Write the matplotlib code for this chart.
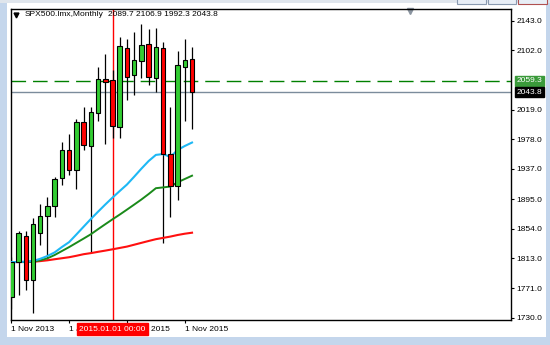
import numpy as np
import matplotlib.pyplot as plt
import matplotlib.transforms as mtransforms
from matplotlib.patches import Rectangle

plt.rcParams['font.family'] = ['Liberation Sans', 'DejaVu Sans']

# monthly bars, Nov 2013 .. Dec 2015
months = ['2013-11', '2013-12', '2014-01', '2014-02', '2014-03', '2014-04', '2014-05',
          '2014-06', '2014-07', '2014-08', '2014-09', '2014-10', '2014-11', '2014-12',
          '2015-01', '2015-02', '2015-03', '2015-04', '2015-05', '2015-06', '2015-07',
          '2015-08', '2015-09', '2015-10', '2015-11', '2015-12']
opens = [1759, 1807, 1843, 1783, 1848, 1872, 1886, 1924, 1963, 1935, 2002, 1969, 2015,
         2061.5, 2060.5, 1995, 2104.6, 2067.5, 2087.4, 2110.6, 2062.9, 2104.6, 1957.2,
         1913, 2079, 2089.7]
highs = [1814, 1851, 1850, 1868, 1888, 1898, 1926, 1974, 1985, 2007, 2023, 2023, 2079,
         2097, 2075, 2120, 2117, 2127, 2138, 2132, 2133, 2114, 2023, 2101, 2118, 2106.9]
lows = [1742, 1762, 1768, 1737, 1831, 1812, 1870, 1915, 1929, 1909, 1963, 1820, 2003,
        1972, 1980, 1980, 2033, 2040, 2063, 2054, 2044, 1834, 1870, 1893, 2003, 1992.3]
closes = [1807, 1848, 1782, 1860, 1871, 1885, 1923, 1963, 1935, 2002, 1970, 2016, 2062,
          2058, 1996, 2108, 2065, 2088, 2109, 2065, 2106, 1957, 1913, 2081, 2089, 2043.8]

# moving averages
ma_fast = [1807.4, 1807.4, 1808.1, 1808.8, 1811.9, 1815.8, 1820.8, 1828.3, 1835.1, 1845.7,
           1856.5, 1867.2, 1877.4, 1887.4, 1897.0, 1906.2, 1915.2, 1926.1, 1937.3, 1947.9,
           1956.4, 1957.6, 1953.5, 1963.2, 1968.8, 1973.6]
ma_mid = [1807.4, 1807.4, 1807.4, 1807.9, 1809.8, 1812.6, 1817.2, 1822.7, 1828.2, 1834.1,
          1840.0, 1846.0, 1853.1, 1860.0, 1866.8, 1873.4, 1880.3, 1887.3, 1894.4, 1902.0,
          1910.1, 1911.2, 1912.4, 1918.3, 1922.9, 1927.5]
ma_slow = [1807.4, 1807.4, 1807.4, 1807.7, 1808.7, 1809.8, 1811.3, 1812.7, 1814.1, 1816.1,
           1818.3, 1819.8, 1821.6, 1823.3, 1825.1, 1827.0, 1828.9, 1831.5, 1834.1, 1836.7,
           1839.2, 1841.0, 1842.8, 1845.0, 1846.8, 1848.2]

yticks = [1730, 1771, 1813, 1854, 1895, 1937, 1978, 2019, 2102, 2143]
xtick_pos = [0, 8, 16, 24]
xtick_labels = ['1 Nov 2013', '1 Jul 2014', '1 Mar 2015', '1 Nov 2015']
ask_line = 2059.3
bid_line = 2043.8
vline_bar = 14
vline_label = '2015.01.01 00:00'

W, H = 550, 345
fig = plt.figure(figsize=(5.5, 3.45), dpi=100, facecolor='#c4d6ec')
# window frame
fig.add_artist(Rectangle((7 / W, 8 / H), 539 / W, 334 / H, transform=fig.transFigure,
                         facecolor='white', edgecolor='none', zorder=-5))
fig.add_artist(Rectangle((0, 342 / H), 1, 3 / H, transform=fig.transFigure,
                         facecolor='#dfe5ec', edgecolor='none', zorder=-5))
for bx, bw, ec in [(457, 29, '#8a9ab0'), (488, 28, '#8a9ab0'), (518, 29, '#b05050')]:
    fig.add_artist(Rectangle((bx / W, 341 / H), bw / W, 6 / H, transform=fig.transFigure,
                             facecolor='#e8eef6', edgecolor=ec, lw=0.8, zorder=-4))

ax = fig.add_axes([11 / W, 25 / H, 500 / W, 311 / H])
ax.set_zorder(5)
ax.set_facecolor('white')

x = np.arange(len(months))
o = np.array(opens)
c = np.array(closes)
up = c >= o

ax.vlines(x, lows, highs, color='black', lw=0.9, zorder=2)
ax.plot(x, ma_slow, color='#ff1010', lw=1.5, zorder=3)
ax.plot(x, ma_mid, color='#1a8a1a', lw=1.4, zorder=3)
ax.plot(x, ma_fast, color='#1eb8f5', lw=1.5, zorder=3)
body_h = np.maximum(np.abs(c - o), 0.8)
ax.bar(x, body_h, bottom=np.minimum(o, c), width=0.62,
       color=np.where(up, '#32cd32', '#ff0000'), edgecolor='black', lw=0.8, zorder=4)

ax.axhline(ask_line, color='#008000', lw=1.0, dashes=(10.5, 5), zorder=1)
ax.axhline(bid_line, color='#7b8c9c', lw=1.0, zorder=1)
ax.axvline(vline_bar, color='red', lw=1.0, zorder=1)

ax.set_xlim(-0.04, 69.12)
ax.set_ylim(1726.8, 2159.3)

for s in ax.spines.values():
    s.set_color('black')
    s.set_linewidth(1.0)

ax.yaxis.tick_right()
ax.set_yticks(yticks)
ax.set_yticklabels(['%.1f' % v for v in yticks])
ax.set_xticks(xtick_pos)
ax.set_xticklabels(xtick_labels)
for lbl in ax.get_xticklabels():
    lbl.set_ha('left')
ax.tick_params(axis='both', direction='out', length=2.5, width=0.8, labelsize=6,
               colors='black', pad=1.5)

# price tags on the right
ytr = mtransforms.blended_transform_factory(ax.transAxes, ax.transData)
ax.text(1.011, ask_line, '%.1f' % ask_line, transform=ytr, fontsize=6, color='white',
        va='center', ha='left', clip_on=False, zorder=10,
        bbox=dict(boxstyle='square,pad=0.22', facecolor='#3a9a3a', edgecolor='#3a9a3a'))
ax.text(1.011, bid_line, '%.1f' % bid_line, transform=ytr, fontsize=6, color='white',
        va='center', ha='left', clip_on=False, zorder=10,
        bbox=dict(boxstyle='square,pad=0.22', facecolor='black', edgecolor='black'))

# time tag under the vertical line
xtr = mtransforms.blended_transform_factory(ax.transData, ax.transAxes)
ax.text(vline_bar, -0.029, vline_label, transform=xtr, fontsize=6, color='white',
        va='center', ha='center', clip_on=False, zorder=10,
        bbox=dict(boxstyle='square,pad=0.25', facecolor='#ff0000', edgecolor='#ff0000'))

# header
ax.plot([0.009], [0.982], marker='v', color='black', ms=3.5, transform=ax.transAxes,
        clip_on=False)
ax.text(0.028, 0.982, 'SPX500.lmx,Monthly', transform=ax.transAxes, fontsize=6,
        va='center', ha='left')
ax.text(0.194, 0.982, '%.1f %.1f %.1f %.1f' % (opens[-1], highs[-1], lows[-1], closes[-1]),
        transform=ax.transAxes, fontsize=6, va='center', ha='left')
# chart shift marker
ax.plot([0.797], [0.993], marker='v', color='#8a94a0', ms=5, transform=ax.transAxes,
        clip_on=False)

fig.savefig('out.png', dpi=100, facecolor=fig.get_facecolor())
